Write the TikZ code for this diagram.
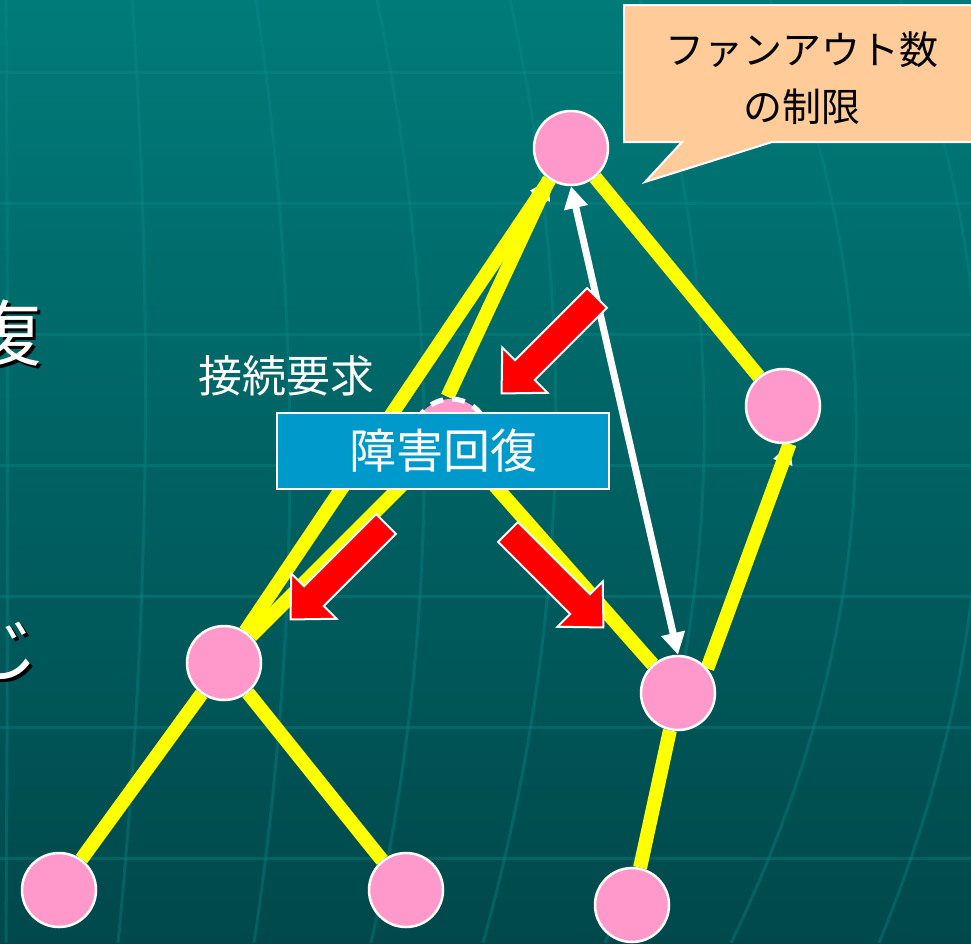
\documentclass[tikz,border=0pt]{standalone}
\usepackage{fontspec}
\newfontfamily\jpfont{Noto Sans CJK JP}
\usetikzlibrary{arrows.meta}
\definecolor{bgtop}{RGB}{0,123,122}
\definecolor{bgbot}{RGB}{0,72,75}
\definecolor{gridc}{RGB}{10,140,140}
\definecolor{peer}{RGB}{255,153,204}
\definecolor{treeline}{RGB}{255,255,0}
\definecolor{boxblue}{RGB}{0,153,204}
\definecolor{notefill}{RGB}{255,204,153}
\pgfdeclarelayer{background}
\pgfdeclarelayer{edges}
\pgfsetlayers{background,edges,main}

\begin{document}
\begin{tikzpicture}[x=1pt,y=-1pt]
		\tikzstyle{every node}+=[inner sep=0pt, font=\jpfont]
		\tikzstyle{peernode}=[circle, fill=peer, draw=white, line width=2.5pt, minimum size=74pt]
		\tikzstyle{failnode}=[peernode, line width=5pt, dash pattern=on 13pt off 9pt]
		\tikzstyle{treeedge}=[draw=treeline, line width=14pt]
		\tikzstyle{joinarrow}=[draw=white, line width=7pt, -{Triangle[width=19pt,length=20pt]}]
		\tikzstyle{swaparrow}=[draw=white, line width=7pt, {Triangle[width=23pt,length=22pt]}-{Triangle[width=23pt,length=22pt]}]
		\tikzstyle{recover}=[fill=red, draw=white, line width=2pt, line join=miter]
		\tikzstyle{gridline}=[draw=gridc, line width=3pt, opacity=0.35]
		\tikzstyle{slidetext}=[anchor=east, font=\jpfont\fontsize{72}{80}\selectfont]
		\useasboundingbox (0,0) rectangle (971,943);
		\node[peernode] (root) at (571,148) {};
		\node[peernode] (mid-r) at (783,406) {};
		\node[failnode] (lost) at (451,436) {};
		\node[peernode] (mid-l) at (224,663) {};
		\node[peernode] (low-r) at (678,693) {};
		\node[peernode] (leaf-a) at (59,890) {};
		\node[peernode] (leaf-b) at (406,890) {};
		\node[peernode] (leaf-c) at (632,905) {};
		\begin{pgfonlayer}{background}
		\shade[top color=bgtop, bottom color=bgbot] (0,0) rectangle (971,943);
		\foreach \y in {72,203,...,858}
			\draw[gridline] (0,\y) -- (971,\y);
		\foreach \a/\p/\q/\c in {6/8/8/6, 132/154/149/118, 256/302/301/254, 377/442/440/371, 510/579/570/483, 640/733/728/605, 770/897/883/731, 900/1015/1008/879}
			\draw[gridline] (\a,0) .. controls (\p,314) and (\q,629) .. (\c,943);
		\end{pgfonlayer}
		\begin{pgfonlayer}{edges}
		\draw[joinarrow] (mid-l) -- (root);
		\draw[joinarrow] (lost.95) -- (root.235);
		\draw[joinarrow] (low-r.40) -- (mid-r.-80);
		\draw[treeedge] (root) -- (mid-l);
		\draw[treeedge] (root.235) -- (lost.95);
		\draw[treeedge] (root) -- (mid-r);
		\draw[treeedge] (lost) -- (mid-l);
		\draw[treeedge] (lost) -- (low-r);
		\draw[treeedge] (low-r.40) -- (mid-r.-80);
		\draw[treeedge] (mid-l) -- (leaf-a);
		\draw[treeedge] (mid-l) -- (leaf-b);
		\draw[treeedge] (low-r) -- (leaf-c);
		\end{pgfonlayer}
		\draw[swaparrow] (root.south) -- (low-r.north);
		\foreach \x/\y/\r in {597/298/225, 386/524/225, 508/532/315}
			\draw[recover, shift={(\x,\y)}, rotate=\r] (0,14) -- (102,14) -- (102,32) -- (135,0) -- (102,-32) -- (102,-14) -- (0,-14) -- cycle;
		\node[fill=boxblue, draw=white, line width=2pt, minimum width=332pt, minimum height=76pt, text=white, font=\jpfont\fontsize{47}{56}\selectfont] (repair) at (443,451) {障害回復};
		\node[text=white, font=\jpfont\fontsize{44}{50}\selectfont] (request) at (286,376) {接続要求};
		\draw[fill=notefill, draw=white, line width=2pt] (624,5) -- (990,5) -- (990,142) -- (772,142) -- (645,182) -- (682,142) -- (624,142) -- cycle;
		\node[align=center, font=\jpfont\fontsize{39}{57}\selectfont] (fanout) at (802,78) {ファンアウト数\\の制限};
		\node[slidetext, text=black] (word-a-shadow) at (45,336) {復};
		\node[slidetext, text=white] (word-a) at (42,333) {復};
		\node[slidetext, text=black] (word-b-shadow) at (42,653) {じ};
		\node[slidetext, text=white] (word-b) at (39,650) {じ};
\end{tikzpicture}
\end{document}
